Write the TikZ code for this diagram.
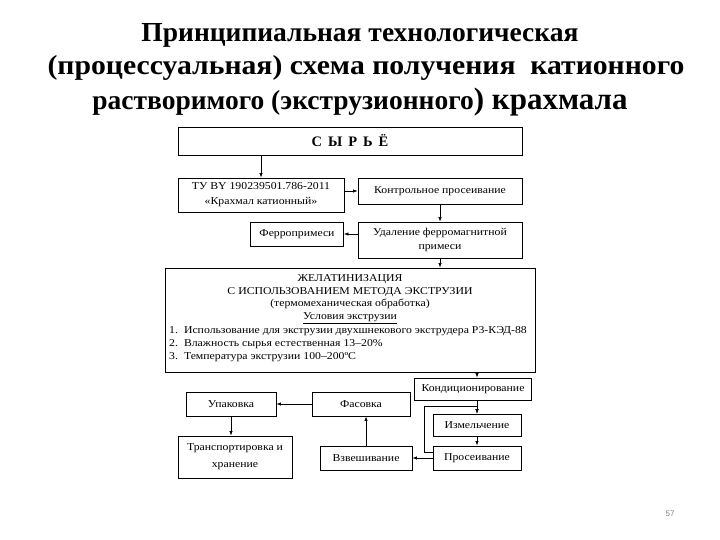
\documentclass[tikz,border=0pt]{standalone}
\usepackage{fontspec}
\setmainfont{Liberation Serif}
\newfontfamily\shemafont[FakeStretch=1.12]{Liberation Serif}
\newfontfamily\zagshirfont[FakeStretch=1.08]{Liberation Serif}
\newfontfamily\numfont{Liberation Sans}
\usetikzlibrary{arrows.meta,positioning}

\begin{document}
\begin{tikzpicture}[
  x=1pt, y=-1pt,
  blok/.style={rectangle, draw, line width=0.8pt, inner sep=1pt, align=center,
               font=\shemafont\fontsize{10.5}{12}\selectfont},
  tekst/.style={inner sep=0pt, font=\shemafont\fontsize{10.5}{12.6}\selectfont},
  zagolovok/.style={inner sep=0pt, font=\bfseries\fontsize{27.5}{31}\selectfont},
  strelka/.style={-{Latex[length=1.6mm,width=1.2mm]}, line width=0.7pt}
]
\useasboundingbox (0,0) rectangle (720,540);

\node[zagolovok] (zag1) at (360,35) {Принципиальная технологическая};
\node[zagolovok, font=\zagshirfont\bfseries\fontsize{27.5}{31}\selectfont] (zag2) at (366,68)
  {(процессуальная) схема получения\ \ катионного};
\node[zagolovok] (zag3) at (360,102) {растворимого (экструзионного{\fontsize{31}{35}\selectfont) крахмала}};

\node[blok, minimum width=344pt, minimum height=28pt, font=\bfseries\fontsize{14.5}{16}\selectfont]
  (syrye) at (350,141) {С\hspace{6pt}Ы\hspace{6pt}Р\hspace{6pt}Ь\hspace{6pt}Ё};
\node[blok, minimum width=166pt, minimum height=34pt, font=\shemafont\fontsize{10.5}{15}\selectfont]
  (tu) at (261,195) {ТУ BY 190239501.786-2011\\«Крахмал катионный»};
\node[blok, minimum width=164pt, minimum height=26pt] (kontrol) at (440,191) {Контрольное просеивание};
\node[blok, minimum width=93pt, minimum height=24pt] (ferro) at (297,234) {Ферропримеси};
\node[blok, minimum width=164pt, minimum height=36pt, font=\shemafont\fontsize{10.5}{13.5}\selectfont]
  (udalenie) at (440,240) {Удаление ферромагнитной\\примеси};

\node[blok, minimum width=370pt, minimum height=104pt] (zhelat) at (350,320) {};
\node[tekst, align=center, below=7pt of zhelat.north] (zhelatzag)
  {ЖЕЛАТИНИЗАЦИЯ\\С ИСПОЛЬЗОВАНИЕМ МЕТОДА ЭКСТРУЗИИ\\(термомеханическая обработка)\\\underline{Условия экструзии}};
\node[tekst, align=left, anchor=north west, font=\shemafont\fontsize{10.5}{13}\selectfont] (usloviya) at (169,326)
  {1.\hspace{6pt}Использование для экструзии двухшнекового экструдера Р3-КЭД-88\\
   2.\hspace{6pt}Влажность сырья естественная 13–20\%\\
   3.\hspace{6pt}Температура экструзии 100–200ºС};

\node[blok, minimum width=117pt, minimum height=22pt] (kondic) at (473,389) {Кондиционирование};
\node[blok, minimum width=88pt, minimum height=22pt] (izmelch) at (477,425) {Измельчение};
\node[blok, minimum width=88pt, minimum height=24pt] (proseiv) at (477,458) {Просеивание};
\node[blok, minimum width=92pt, minimum height=24pt] (vzvesh) at (366,458) {Взвешивание};
\node[blok, minimum width=98pt, minimum height=24pt] (fasovka) at (361,404) {Фасовка};
\node[blok, minimum width=90pt, minimum height=24pt] (upakovka) at (231,404) {Упаковка};
\node[blok, minimum width=114pt, minimum height=42pt, font=\shemafont\fontsize{10.5}{17}\selectfont]
  (transport) at (235,457) {Транспортировка и\\хранение};

\node[font=\numfont\fontsize{8}{10}\selectfont, text=gray] (nomer) at (670,514) {57};

\draw[strelka] (syrye.south -| tu) -- (tu);
\draw[strelka] (tu.east |- kontrol) -- (kontrol);
\draw[strelka] (kontrol) -- (udalenie);
\draw[strelka] (udalenie.west |- ferro) -- (ferro);
\draw[strelka] (udalenie) -- (zhelat.north -| udalenie);
\draw[strelka] (zhelat.south -| izmelch) -- (kondic.north -| izmelch);
\draw[strelka] (kondic.south -| izmelch) -- (izmelch);
\draw[strelka] (izmelch) -- (proseiv);
\draw[strelka] ([yshift=6pt]proseiv.west) -- ++(-8,0) |- ([yshift=7pt]izmelch.north) -- (izmelch.north);
\draw[strelka] (proseiv) -- (vzvesh);
\draw[strelka] (vzvesh.north) -- (fasovka.south -| vzvesh.north);
\draw[strelka] (fasovka) -- (upakovka);
\draw[strelka] (upakovka.south) -- (transport.north -| upakovka.south);
\end{tikzpicture}
\end{document}
